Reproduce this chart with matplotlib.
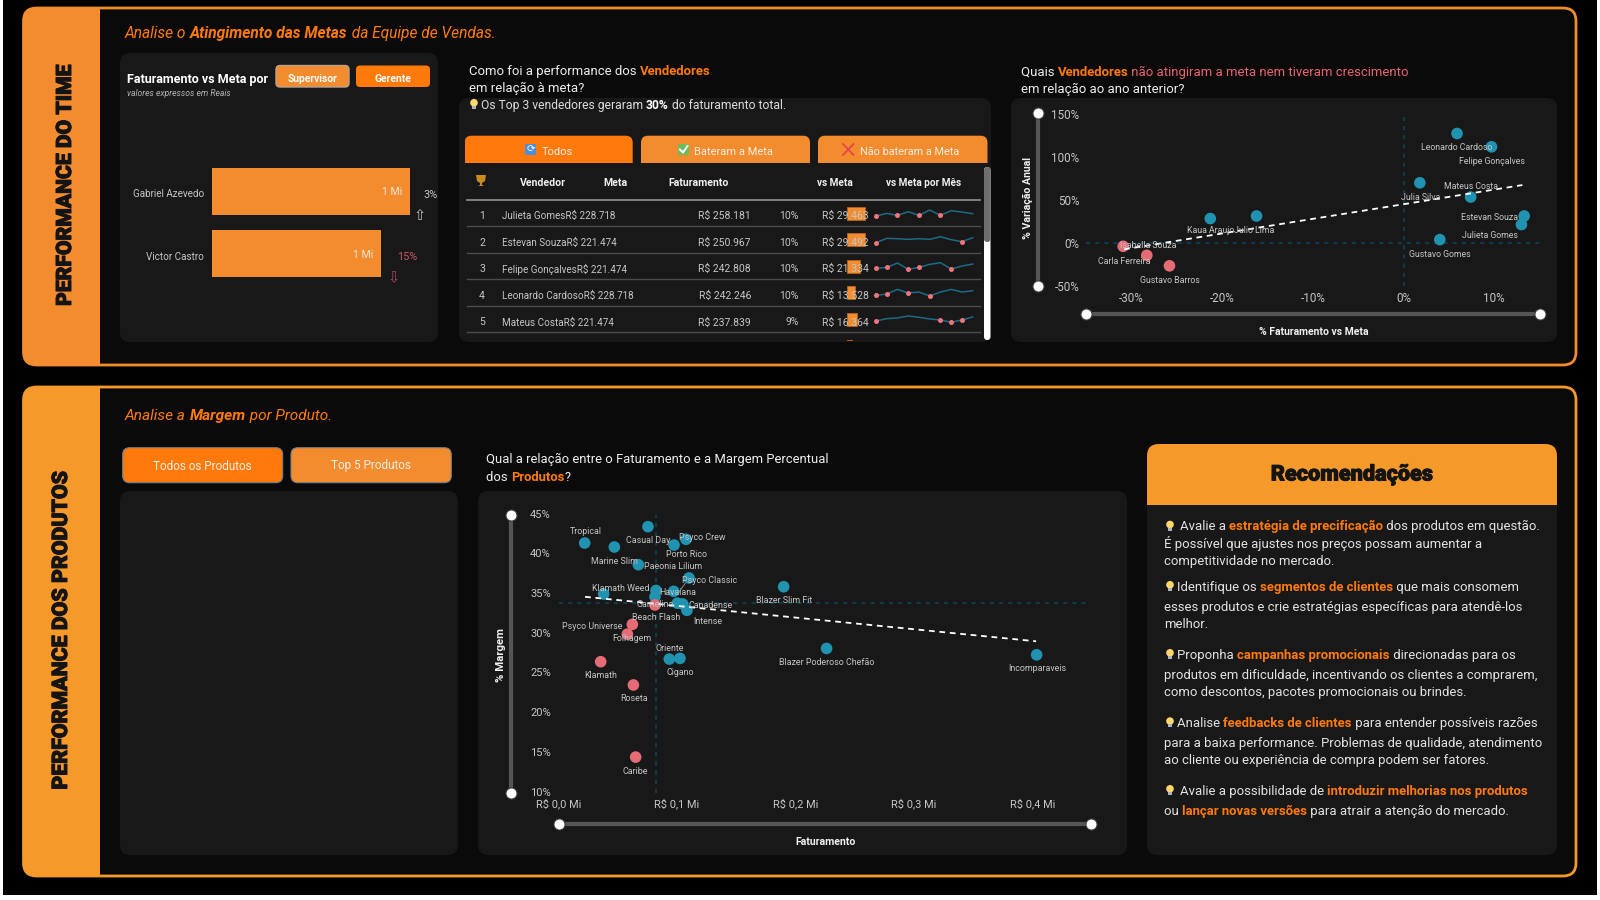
import matplotlib
matplotlib.use("Agg")
import matplotlib.pyplot as plt
import matplotlib.patheffects as pe
from matplotlib.patches import FancyBboxPatch, Rectangle, Circle, Polygon
from matplotlib.ticker import FuncFormatter
from matplotlib.transforms import Affine2D

FONT = "Roboto"
HEAVY = "Roboto"
plt.rcParams["font.family"] = [FONT, "DejaVu Sans"]

# ---------- data ----------
sup_names = ["Gabriel Azevedo", "Victor Castro"]
sup_values = [1.40, 1.195]
sup_labels = ["1 Mi", "1 Mi"]
sup_var = ["3%", "15%"]

ranks = [1, 2, 3, 4, 5]
sellers = ["Julieta Gomes", "Estevan Souza", "Felipe Gonçalves", "Leonardo Cardoso", "Mateus Costa"]
metas = [228718, 221474, 221474, 228718, 221474]
fats = [258181, 250967, 242808, 242246, 237839]
pcts = ["10%", "10%", "10%", "10%", "9%"]
diffs = [29463, 29492, 21334, 13528, 16364]
row6_diff = 8000

spark1 = [-4, 4, -2, 9, -2, 14, -2, 12, 8, 3]
spark2 = [-6, 7, 6, 4, 6, 4, 12, 3, -3, 9]
spark3 = [-5, -2, 11, -8, -2, 7, 12, -7, 2, 8]
spark4 = [-8, -4, 10, -1, 2, -10, 2, 10, 2, 6]
spark5 = [-5, 2, 4, 10, 6, 1, -2, -9, -2, 7]

v_names = ["Leonardo Cardoso", "Felipe Gonçalves", "Julia Silva", "Mateus Costa", "Estevan Souza", "Julieta Gomes",
           "Gustavo Gomes", "Julio Lima", "Kaua Araujo", "Isabella Souza", "Carla Ferreira", "Gustavo Barros"]
v_x = [5.9, 9.7, 1.8, 7.4, 13.3, 13.0, 4.0, -16.2, -21.3, -30.9, -28.3, -25.8]
v_y = [127, 111.5, 69.6, 53, 31, 21, 3.5, 31, 28, -4.3, -14.8, -27]
v_off = [(-.7, -14), (0, -14.3), (.7, -14.3), (0, 10.7), (-34.3, -2), (-32, -11.3),
         (0, -14.7), (-2.5, -14.7), (0, -12.3), (25, 1.3), (-23, -5.7), (0, -15)]
v_trend_x = [-30.8, 13.1]
v_trend_y = [-7.8, 67]

p_names = ["Tropical", "Marine Slim", "Casual Day", "Porto Rico", "Psyco Crew", "Paeonia Lilium", "Psyco Classic",
           "Blazer Slim Fit", "Klamath Weed", "Havaiana", "", "Beach Flash", "Gamelina", "", "Canadense", "Intense",
           "Psyco Universe", "Folhagem", "Oriente", "Cigano", "Klamath", "Roseta", "Caribe",
           "Blazer Poderoso Chefão", "Incomparaveis"]
p_x = [.0221, .0471, .0755, .0975, .1076, .0674, .1101, .190, .0381, .0972, .0823, .0814, .0814, .1003, .1048, .1084,
       .0623, .0581, .0935, .1025, .0356, .0632, .0651, .2262, .4035]
p_y = [41.47, 40.97, 43.53, 41.22, 41.94, 38.74, 37.07, 35.97, 35.05, 35.39, 35.5, 34.7, 33.67, 33.9, 33.8, 33.0,
       31.23, 30.0, 26.86, 26.95, 26.53, 23.6, 14.52, 28.2, 27.4]
p_off = [(.7, 11.3), (0, -14), (0, -14.3), (12, -9), (16.7, 2), (35, -1.3), (21, -2.3), (0, -13.7), (17.3, 5.3),
         (4, -1.3), (0, 0), (0.7, -20.7), (0, .7), (0, 0), (28, -1.7), (20.7, -10.7), (-39.7, -1.7), (4.7, -4.3),
         (0, 11), (0, -14), (0, -14), (.7, -14), (0, -14), (0, -14), (.6, -13.7)]
p_trend_x = [.0224, .4030]
p_trend_y = [34.7, 29.1]

TEAL, RED = "#1F93B0", "#E56B75"
O1, O2, OV = "#F28C2E", "#F59A2A", "#FF7A0A"
CARD, INNER = "#191819", "#0A0A0A"
TXT, LBL = "#DCDCDC", "#C6C6C6"

fig = plt.figure(figsize=(16, 9), dpi=100, facecolor="white")


def overlay(z):
    a = fig.add_axes([0, 0, 1, 1], zorder=z)
    a.set_xlim(0, 1600)
    a.set_ylim(900, 0)
    a.axis("off")
    a.patch.set_alpha(0)
    return a


bg = overlay(0)
fg = overlay(10)


def box(px_l, px_t, px_r, px_b, z=5):
    a = fig.add_axes([px_l / 1600, 1 - px_b / 900, (px_r - px_l) / 1600, (px_b - px_t) / 900], zorder=z)
    a.patch.set_alpha(0)
    for s in a.spines.values():
        s.set_visible(False)
    a.tick_params(length=0)
    return a


def rrect(l, t, r, b, rad, fc, ec="none", lw=0, ax=bg, z=1):
    p = FancyBboxPatch((l, t), r - l, b - t, boxstyle=f"round,pad=0,rounding_size={rad}", fc=fc, ec=ec, lw=lw, zorder=z)
    ax.add_patch(p)
    return p


renderer = fig.canvas.get_renderer()


def text_w(s, **kw):
    t = fg.text(0, 0, "|" + s + "|", **kw)
    w1 = t.get_window_extent(renderer).width
    t.set_text("||")
    w0 = t.get_window_extent(renderer).width
    t.remove()
    return w1 - w0


def rich(x, y, parts, size, color=TXT, style="normal"):
    base = y + 0.36 * size * 100 / 72
    for p in parts:
        s, c, w = (p, color, "normal") if isinstance(p, str) else p
        kw = dict(fontsize=size, fontweight=w, fontstyle=style)
        fg.text(x, base, s, color=c, va="baseline", ha="left", **kw)
        x += text_w(s, **kw)
    return x


def bulb(x, y):
    fg.add_patch(Circle((x, y - 1.2), 3.8, fc="#FFD76A", ec="none"))
    fg.add_patch(Rectangle((x - 2, y + 2), 4, 3, fc="#A9B4BC", ec="none"))


def shift_labels(labels, dx=0, dy=0):
    for lab in labels:
        lab.set_transform(lab.get_transform() + Affine2D().translate(dx, dy))


def heavy(x, y, s, size, **kw):
    fg.text(x, y, s, ha="center", va="center", fontsize=size, family=HEAVY, fontweight=900, color="#141414",
            path_effects=[pe.withStroke(linewidth=.7, foreground="#141414")], **kw)


# ---------- page ----------
bg.add_patch(Rectangle((3, 0), 1594, 895, fc="black", ec="none", zorder=0))
for (l, t, r, b, col) in [(23.5, 8, 1576, 365, O1), (23.5, 387, 1576, 876, O2)]:
    rrect(l, t, r, b, 13, INNER, ec=col, lw=2)
    band = rrect(l, t, r, b, 13, col, z=2)
    band.set_clip_path(Rectangle((l - 2, t - 2), 100 - l + 2, b - t + 4, transform=bg.transData))

heavy(65.5, 185.5, "PERFORMANCE DO TIME", 15.2, rotation=90)
heavy(61.5, 631, "PERFORMANCE DOS PRODUTOS", 15.35, rotation=90)

rich(125, 32, ["Analise o ", ("Atingimento das Metas", OV, "bold"), " da Equipe de Vendas."], 11.2, OV, "italic")
rich(125, 414, ["Analise a ", ("Margem", OV, "bold"), " por Produto."], 11.1, OV, "italic")

# ---------- cards ----------
rrect(120, 53, 438, 342, 10, CARD)
rrect(459, 98, 991, 342, 10, CARD)
rrect(1011, 98, 1557, 342, 10, CARD)
rrect(120, 491, 458, 855, 10, CARD)
rrect(478, 491, 1127, 855, 10, CARD)
rrect(1147, 444, 1557, 855, 10, CARD)
hdr = rrect(1147, 444, 1557, 560, 12, O2, z=2)
hdr.set_clip_path(Rectangle((1147, 444), 410, 61, transform=bg.transData))

# ---------- bar card ----------
rich(127, 78, [("Faturamento vs Meta por", "white", "bold")], 9.0)
rich(127, 93, ["valores expressos em Reais"], 6.2, "#B5B5B5", "italic")
rrect(276, 65.5, 349, 87, 4, O1, ec="#B9A48F", lw=1)
rrect(356, 65.5, 430, 87, 4, OV)
fg.text(312.5, 78.8, "Supervisor", color="white", fontsize=7.4, fontweight="bold", ha="center", va="center")
fg.text(393, 78.8, "Gerente", color="white", fontsize=7.4, fontweight="bold", ha="center", va="center")

axb = box(212, 160, 412, 285)
axb.barh(range(len(sup_names)), sup_values, height=.758, color=O1)
axb.set_xlim(0, 200 / 198 * sup_values[0])
axb.set_ylim(1.508, -.508)
axb.set_xticks([])
axb.set_yticks(range(len(sup_names)), sup_names, color=LBL, fontsize=7.1)
axb.tick_params(axis="y", pad=5.8)
shift_labels(axb.get_yticklabels(), dy=-2)
for i, (v, lab) in enumerate(zip(sup_values, sup_labels)):
    axb.annotate(lab, (v, i), xytext=(-8, -1), textcoords="offset pixels", ha="right", va="center",
                 color="#F3E6D8", fontsize=7.6)
fg.text(423, 194.5, sup_var[0], color=LBL, fontsize=7.8, va="center")
fg.text(397.3, 257, sup_var[1], color="#C9596A", fontsize=7.8, va="center")
fg.text(420, 215.7, "⇧", color="#C0C0C0", fontsize=10.5, family="DejaVu Sans", ha="center", va="center")
fg.text(393.7, 277.7, "⇩", color="#A84A5A", fontsize=10.5, family="DejaVu Sans", ha="center", va="center")

# ---------- table card ----------
rich(469, 70, ["Como foi a performance dos ", ("Vendedores", OV, "bold")], 9.45, "#EDEDED")
rich(469, 87.6, ["em relação à meta?"], 9.45, "#EDEDED")
bulb(474, 104)
rich(481, 104.5, ["Os Top 3 vendedores geraram ", ("30%", "white", "bold"), " do faturamento total."], 8.75)

for (l, r, col) in [(464.6, 632.7, OV), (641, 810, O1), (818, 987.5, O1)]:
    t = rrect(l, 135.7, r, 175, 7, col)
    t.set_clip_path(Rectangle((l, 135), r - l, 27.7, transform=bg.transData))
for (cx, s, fs) in [(557.6, "Todos", 8.0), (734, "Bateram a Meta", 8.0), (909.5, "Não bateram a Meta", 7.8)]:
    fg.text(cx, 152.2, s, color="#F4EDE4", fontsize=fs, ha="center", va="center")
rrect(525, 144, 536, 155, 1.5, "#4A8FE0", ax=fg)
fg.text(530.5, 149.3, "⟳", color="white", fontsize=7.5, family="DejaVu Sans", ha="center", va="center")
rrect(678, 144, 689, 155, 1.5, "#6DBB5E", ax=fg)
fg.plot([680, 683, 687.5], [149.5, 152.5, 146], color="white", lw=1.4)
fg.plot([843, 853.5], [144, 155], color="#E6404A", lw=1.2)
fg.plot([853.5, 843], [144, 155], color="#E6404A", lw=1.2)

fg.add_patch(Polygon([(476, 175), (486, 175), (485, 181), (482, 183), (482, 185), (484, 186), (478, 186), (480, 185),
                      (480, 183), (477, 181)], fc="#C98A1E", ec="none"))
for cx, s, fs in [(543, "Vendedor", 7.6), (615.5, "Meta", 7.6), (699, "Faturamento", 7.6), (835, "vs Meta", 7.2),
                  (923.6, "vs Meta por Mês", 7.2)]:
    fg.text(cx, 183.2, s, color="#EFEFEF", fontsize=fs, fontweight="bold", ha="center", va="center")
bg.plot([467, 980], [199.7, 199.7], color="#8A8A8A", lw=1.3, zorder=3)


def money(v):
    return "R$ " + f"{v:,}".replace(",", ".")


row_y = [216, 242.7, 269, 295.7, 322.4]
row_rule = [226.3, 253, 279.3, 305.7, 332.3]
for i in range(len(ranks)):
    y = row_y[i]
    bg.plot([467, 980], [row_rule[i]] * 2, color="#4C4C4C", lw=1, zorder=3)
    fg.text(482, y, str(ranks[i]), color=LBL, fontsize=7.6, ha="center", va="center")
    fg.text(502, y, sellers[i] + money(metas[i]), color=LBL, fontsize=7.15, ha="left", va="center")
    fg.text(751, y, money(fats[i]), color=LBL, fontsize=7.5, ha="right", va="center")
    fg.text(799, y, pcts[i], color=LBL, fontsize=7.5, ha="right", va="center")
    fg.text(822, y, money(diffs[i]), color=LBL, fontsize=7.5, ha="left", va="center")

axd = box(847, 200, 866, 341)
axd.barh(range(6), diffs + [row6_diff], height=.489, color=O1, edgecolor="#B9641E", linewidth=.6)
axd.set_xlim(0, 19 / 17.8 * diffs[0])
axd.set_ylim(4.805, -.496)
axd.set_xticks([])
axd.set_yticks([])

spark_thr = [214.7, 240.7, 266.7, 292.7, 319.3]
for series, thr in zip([spark1, spark2, spark3, spark4, spark5], spark_thr):
    a = box(876, thr - 5, 972.7, thr + 5, z=6)
    xs = list(range(len(series)))
    a.plot(xs, series, color="#1C6C84", lw=1.1, clip_on=False)
    miss = [k for k in xs if series[k] < 0]
    a.plot(miss, [series[k] for k in miss], ls="none", marker="o", ms=3.6, color="#F5717C", mec="none", clip_on=False)
    a.set_xlim(0, len(series) - 1)
    a.set_ylim(-15, 15)
    a.set_xticks([])
    a.set_yticks([])

rrect(984, 167, 990.5, 340, 3, "white", ax=fg)
rrect(984, 167, 990.5, 242, 3, "#6E6E6E", ax=fg)


# ---------- scatter helpers ----------
def slider(ax_, x0, y0, x1, y1):
    ax_.plot([x0, x1], [y0, y1], color="#555555", lw=3, solid_capstyle="round", zorder=3)
    for (a0, b0) in [(x0, y0), (x1, y1)]:
        ax_.plot([a0], [b0], marker="o", ms=8, mfc="white", mec="#3A3A3A", mew=.8, zorder=4)


def scatter_marks(a, xs, ys, names, offs, tx, ty, below, lfs):
    cols = [RED if below(x, y) else TEAL for x, y in zip(xs, ys)]
    a.scatter(xs, ys, s=70, c=cols, linewidths=0, zorder=3, clip_on=False)
    a.plot(tx, ty, color="white", lw=1.3, dashes=(3.2, 2.6), zorder=4)
    for n, x, y, o in zip(names, xs, ys, offs):
        if n:
            a.annotate(n, (x, y), xytext=o, textcoords="offset pixels", ha="center", va="center",
                       color=LBL, fontsize=lfs, zorder=5)


REF = "#0F3A48"
REFD = (2.0, 2.4)

# ---------- vendedores scatter ----------
rich(1021, 71, ["Quais ", ("Vendedores", OV, "bold"), (" não atingiram a meta nem tiveram crescimento", "#E8646F", "normal")],
     9.45, "#EDEDED")
rich(1021, 88.7, ["em relação ao ano anterior?"], 9.45, "#EDEDED")
axv = box(1086, 113.3, 1539.6, 286)
axv.set_xlim(-35, 15)
axv.set_ylim(-50.5, 150.5)
axv.axvline(0, color=REF, lw=1.5, dashes=REFD, zorder=1)
axv.axhline(0, color=REF, lw=1.5, dashes=REFD, zorder=1)
scatter_marks(axv, v_x, v_y, v_names, v_off, v_trend_x, v_trend_y, lambda x, y: x < 0 and y < 0, 6.3)
axv.set_xticks([-30, -20, -10, 0, 10])
axv.set_yticks([-50, 0, 50, 100, 150])
axv.xaxis.set_major_formatter(FuncFormatter(lambda v, _: f"{v:.0f}%"))
axv.yaxis.set_major_formatter(FuncFormatter(lambda v, _: f"{v:.0f}%"))
axv.tick_params(colors=LBL, labelsize=8.4)
axv.tick_params(axis="x", pad=4.3)
axv.tick_params(axis="y", pad=4.7)
shift_labels(axv.get_yticklabels(), dy=-0.5)
slider(fg, 1037.9, 113.3, 1037.9, 286)
slider(fg, 1086, 314.3, 1539.6, 314.3)
fg.text(1314, 331.7, "% Faturamento vs Meta", color="#EFEFEF", fontsize=7.5, fontweight="bold", ha="center", va="center")
fg.text(1028, 198, "% Variação Anual", color="#EFEFEF", fontsize=7.6, fontweight="bold", rotation=90, ha="center", va="center")

# ---------- produtos ----------
rrect(122.7, 447.7, 282.7, 482.7, 7, OV, ec="#7A7D85", lw=.8)
rrect(291, 447.7, 451.3, 482.7, 7, O1, ec="#7A7D85", lw=.8)
fg.text(202.7, 466, "Todos os Produtos", color="#F4EDE4", fontsize=8.5, ha="center", va="center")
fg.text(371, 466, "Top 5 Produtos", color="#F4EDE4", fontsize=8.5, ha="center", va="center")

rich(486, 458.5, ["Qual a relação entre o Faturamento e a Margem Percentual"], 9.4, "#EDEDED")
rich(486, 476.2, ["dos ", ("Produtos", OV, "bold"), "?"], 9.4, "#EDEDED")

axp = box(558.5, 515, 1090.7, 793)
axp.set_xlim(0, .4491)
axp.set_ylim(10, 45)
axp.axvline(.0823, color=REF, lw=1.5, dashes=REFD, zorder=1)
axp.axhline(33.9, color=REF, lw=1.5, dashes=REFD, zorder=1)
scatter_marks(axp, p_x, p_y, p_names, p_off, p_trend_x, p_trend_y, lambda x, y: x < .0823 and y < 33.9, 6.4)
axp.plot([p_x[9] + .004, p_x[6]], [p_y[9] - .2, p_y[6]], color="#8A8A8A", lw=.7, zorder=2)
axp.set_xticks([0, .1, .2, .3, .4])
axp.set_yticks([10, 15, 20, 25, 30, 35, 40, 45])
axp.xaxis.set_major_formatter(FuncFormatter(lambda v, _: f"R$ {v:.1f} Mi".replace(".", ",")))
axp.yaxis.set_major_formatter(FuncFormatter(lambda v, _: f"{v:.0f}%"))
axp.tick_params(axis="x", colors=LBL, labelsize=7.9, pad=4.0)
axp.tick_params(axis="y", colors=LBL, labelsize=8.0, pad=5.4)
shift_labels(axp.get_yticklabels(), dy=1.5)
slider(fg, 511, 515, 511, 793)
slider(fg, 558.5, 824.3, 1090.7, 824.3)
fg.text(825.3, 841.7, "Faturamento", color="#EFEFEF", fontsize=7.6, fontweight="bold", ha="center", va="center")
fg.text(500.5, 655, "% Margem", color="#EFEFEF", fontsize=8.2, fontweight="bold", rotation=90, ha="center", va="center")

# ---------- recomendacoes ----------
heavy(1352, 474.5, "Recomendações", 15.6)
B = "bold"
RS = 9.42
X0 = 1164
rec = [
    (525.7, 1180, ["Avalie a ", ("estratégia de precificação", OV, B), " dos produtos em questão."], True),
    (543.3, X0, ["É possível que ajustes nos preços possam aumentar a"], False),
    (560.7, X0, ["competitividade no mercado."], False),
    (586, 1177, ["Identifique os ", ("segmentos de clientes", OV, B), " que mais consomem"], True),
    (606, X0, ["esses produtos e crie estratégias específicas para atendê-los"], False),
    (623.3, X0, ["melhor."], False),
    (654, 1177, ["Proponha ", ("campanhas promocionais", OV, B), " direcionadas para os"], True),
    (674, X0, ["produtos em dificuldade, incentivando os clientes a comprarem,"], False),
    (691.3, X0, ["como descontos, pacotes promocionais ou brindes."], False),
    (722.3, 1177, ["Analise ", ("feedbacks de clientes", OV, B), " para entender possíveis razões"], True),
    (742, X0, ["para a baixa performance. Problemas de qualidade, atendimento"], False),
    (759.3, X0, ["ao cliente ou experiência de compra podem ser fatores."], False),
    (790, 1180, ["Avalie a possibilidade de ", ("introduzir melhorias nos produtos", OV, B)], True),
    (810, X0, ["ou ", ("lançar novas versões", OV, B), " para atrair a atenção do mercado."], False),
]
for y, x, parts, has_bulb in rec:
    if has_bulb:
        bulb(1170, y)
    rich(x, y, parts, RS, "#E2E2E2")

fig.savefig("out.png", dpi=100, facecolor="white")
